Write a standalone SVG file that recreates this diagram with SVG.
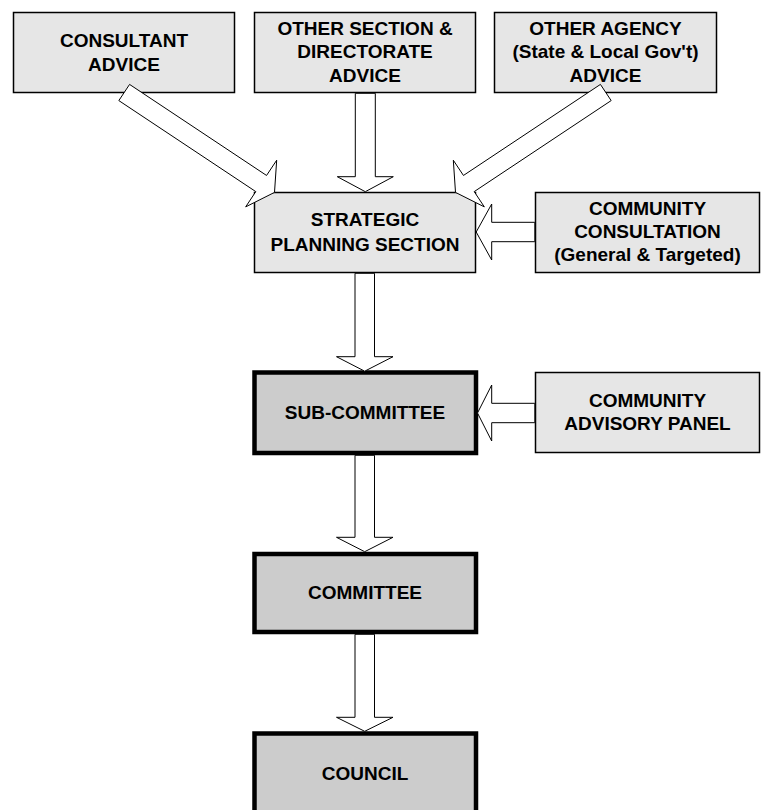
<svg xmlns="http://www.w3.org/2000/svg" width="762" height="810" viewBox="0 0 762 810">
<style>
.box{fill:#e6e6e6;stroke:#000;stroke-width:1.5}
.tbox{fill:#cccccc;stroke:#000;stroke-width:4.5}
.arr{fill:#fff;stroke:#000;stroke-width:1;stroke-linejoin:miter}
text{font-family:"Liberation Sans",Arial,sans-serif;font-weight:bold;font-size:19px;fill:#000;text-anchor:middle}
</style>
<rect width="762" height="810" fill="#fff"/>
<g id="consultant">
<rect class="box" x="13.5" y="12.5" width="221" height="80"/>
<text x="124" y="46.5">CONSULTANT</text>
<text x="124" y="70.5">ADVICE</text>
</g>
<g id="other-section">
<rect class="box" x="254.5" y="12.5" width="221" height="80"/>
<text x="365" y="34.5">OTHER SECTION &amp;</text>
<text x="365" y="58.2">DIRECTORATE</text>
<text x="365" y="82">ADVICE</text>
</g>
<g id="other-agency">
<rect class="box" x="494.5" y="12.5" width="222" height="80"/>
<text x="605.5" y="34.5">OTHER AGENCY</text>
<text x="605.5" y="58.2">(State &amp; Local Gov't)</text>
<text x="605.5" y="82">ADVICE</text>
</g>
<g id="strategic">
<rect class="box" x="254.5" y="192.5" width="221" height="80"/>
<text x="365" y="225.5">STRATEGIC</text>
<text x="365" y="251">PLANNING SECTION</text>
</g>
<g id="community-consultation">
<rect class="box" x="535.5" y="192.5" width="224" height="80"/>
<text x="647.5" y="215">COMMUNITY</text>
<text x="647.5" y="238">CONSULTATION</text>
<text x="647.5" y="261">(General &amp; Targeted)</text>
</g>
<g id="sub-committee">
<rect class="tbox" x="254.5" y="372.5" width="221.5" height="80.5"/>
<text x="365" y="418.5">SUB-COMMITTEE</text>
</g>
<g id="community-advisory-panel">
<rect class="box" x="535.5" y="372.5" width="224" height="80"/>
<text x="647.5" y="406.7">COMMUNITY</text>
<text x="647.5" y="430">ADVISORY PANEL</text>
</g>
<g id="committee">
<rect class="tbox" x="254.5" y="554" width="221.5" height="78"/>
<text x="365" y="598.5">COMMITTEE</text>
</g>
<g id="council">
<rect class="tbox" x="254.5" y="733.5" width="221.5" height="82"/>
<text x="365" y="780">COUNCIL</text>
</g>
<g id="connectors">
<polygon class="arr" points="129.57,84.42 266.55,175.46 276.68,160.22 274.5,192.4 245.68,206.86 255.81,191.62 118.83,100.58"/>
<polygon class="arr" points="600.43,84.42 463.45,175.46 453.32,160.22 455.5,192.4 484.32,206.86 474.19,191.62 611.17,100.58"/>
<polygon class="arr" points="355.3,93.3 375.3,93.3 375.3,176.7 393.3,176.7 365.3,191.7 337.3,176.7 355.3,176.7"/>
<polygon class="arr" points="534.8,222.3 491.7,222.3 491.7,204 476.2,232 491.7,260 491.7,241.7 534.8,241.7"/>
<polygon class="arr" points="355,273.3 374.5,273.3 374.5,356.7 393,356.7 364.7,371.2 336.5,356.7 355,356.7"/>
<polygon class="arr" points="534.8,403.3 491.7,403.3 491.7,385 477.5,413 491.7,441 491.7,422.7 534.8,422.7"/>
<polygon class="arr" points="355,455.3 374.5,455.3 374.5,537.3 393,537.3 364.7,551.7 336.5,537.3 355,537.3"/>
<polygon class="arr" points="355,634.3 374.5,634.3 374.5,717.3 393,717.3 364.7,731.3 336.5,717.3 355,717.3"/>
</g>
</svg>
